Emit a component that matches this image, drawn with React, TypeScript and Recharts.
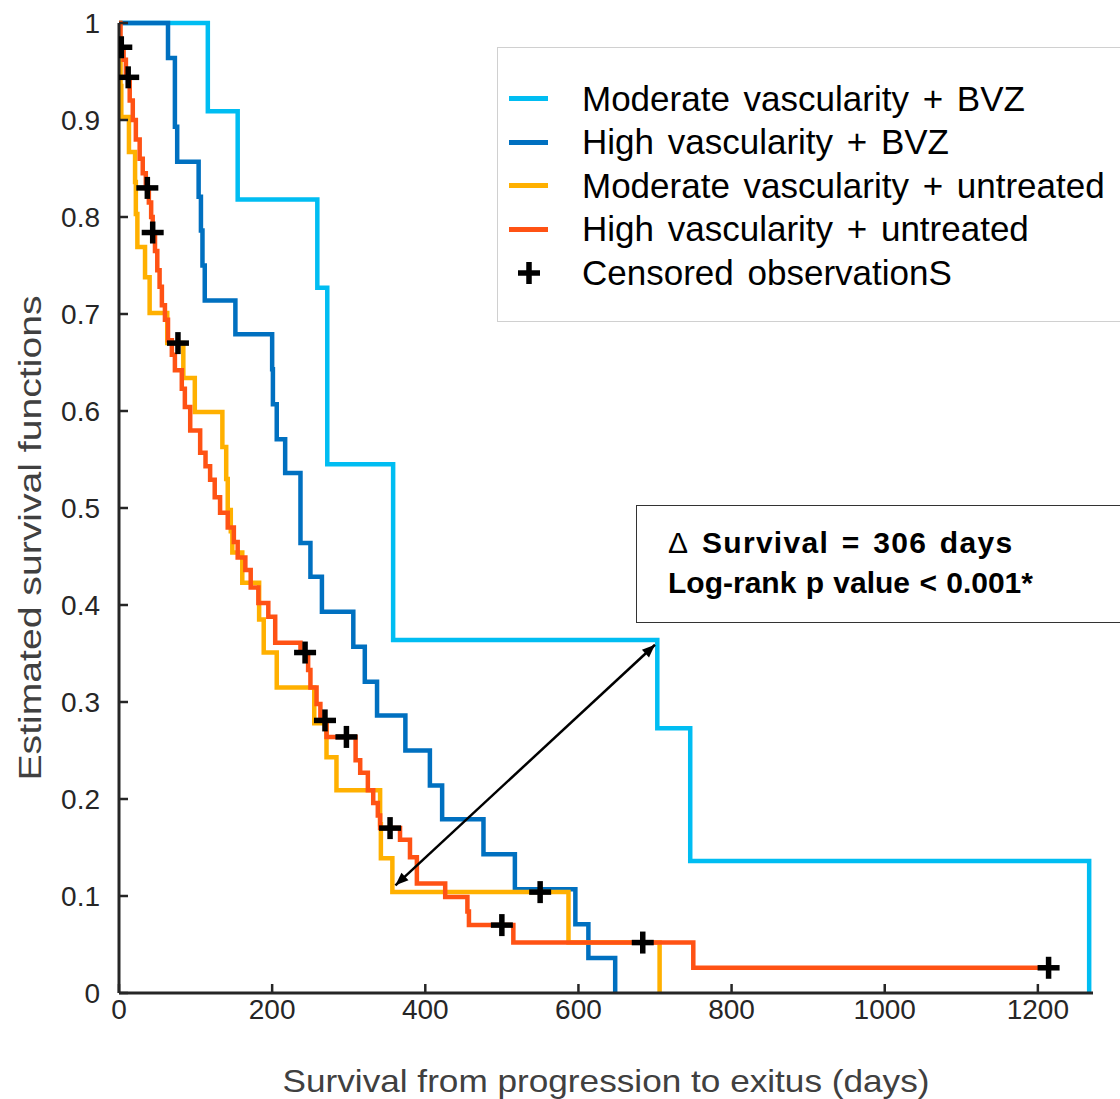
import React from "react";
import {
  ComposedChart,
  Line,
  Scatter,
  XAxis,
  YAxis,
  ReferenceLine,
} from "recharts";

// Kaplan-Meier steps: [day, survival]
const moderateBvz: [number, number][] = [
  [0, 1], [116, 0.909], [155, 0.818], [259, 0.727], [272, 0.545],
  [358, 0.364], [703, 0.273], [746, 0.136], [1267, 0],
];

const highBvz: [number, number][] = [
  [0, 1], [64, 0.964], [73, 0.893], [76, 0.857], [104, 0.821], [107, 0.786],
  [109, 0.75], [112, 0.714], [152, 0.679], [200, 0.643], [201, 0.607],
  [206, 0.571], [217, 0.536], [237, 0.464], [250, 0.429], [265, 0.393],
  [306, 0.357], [321, 0.321], [337, 0.286], [374, 0.25], [406, 0.214],
  [422, 0.179], [476, 0.143], [517, 0.107], [596, 0.071], [613, 0.036],
  [648, 0],
];

const moderateUntreated: [number, number][] = [
  [0, 1], [1, 0.965], [2, 0.935], [3, 0.903], [13, 0.867], [21, 0.836],
  [22, 0.803], [24, 0.769], [34, 0.738], [40, 0.701], [63, 0.67],
  [84, 0.634], [99, 0.599], [135, 0.563], [140, 0.53], [142, 0.498],
  [146, 0.476], [148, 0.454], [161, 0.423], [183, 0.385], [189, 0.351],
  [206, 0.315], [255, 0.278], [271, 0.243], [284, 0.209], [341, 0.174],
  [342, 0.139], [357, 0.104], [587, 0.052], [706, 0],
];

const highUntreated: [number, number][] = [
  [0, 1], [2, 0.975], [6, 0.962], [9, 0.944], [14, 0.92], [18, 0.9],
  [22, 0.88], [27, 0.86], [31, 0.845], [35, 0.83], [39, 0.815], [42, 0.8],
  [44, 0.784], [47, 0.765], [50, 0.745], [53, 0.728], [56, 0.709],
  [60, 0.694], [64, 0.673], [69, 0.658], [73, 0.642], [82, 0.623],
  [86, 0.604], [93, 0.58], [106, 0.557], [113, 0.543], [119, 0.529],
  [125, 0.511], [132, 0.495], [142, 0.48], [150, 0.465], [155, 0.449],
  [165, 0.436], [172, 0.418], [182, 0.402], [195, 0.388], [204, 0.361],
  [237, 0.351], [247, 0.333], [250, 0.315], [258, 0.298], [263, 0.281],
  [271, 0.264], [309, 0.24], [315, 0.227], [325, 0.209], [332, 0.196],
  [338, 0.183], [341, 0.17], [367, 0.158], [380, 0.14], [389, 0.113],
  [426, 0.099], [455, 0.084], [457, 0.07], [515, 0.052], [750, 0.026],
  [1214, 0.026],
];

const censored: [number, number][] = [
  [3, 0.975], [12, 0.944], [37, 0.83], [44, 0.784], [77, 0.67],
  [243, 0.351], [269, 0.281], [297, 0.264], [354, 0.17], [500, 0.07],
  [550, 0.104], [684, 0.052], [1214, 0.026],
];

const xTicks = [0, 200, 400, 600, 800, 1000, 1200];
const yTicks = [0, 0.1, 0.2, 0.3, 0.4, 0.5, 0.6, 0.7, 0.8, 0.9, 1];

const series = [
  { name: "Moderate vascularity + BVZ", color: "#00BDF2", data: moderateBvz },
  { name: "High vascularity + BVZ", color: "#0070C0", data: highBvz },
  { name: "Moderate vascularity + untreated", color: "#FFB000", data: moderateUntreated },
  { name: "High vascularity + untreated", color: "#FF5214", data: highUntreated },
];

const arrowEnds = [
  { x: 361, y: 0.111 },
  { x: 700, y: 0.359 },
];

const FONT = "'Liberation Sans', Arial, sans-serif";
const toRows = (d: [number, number][]) => d.map(([day, s]) => ({ day, s }));

function Cross(props: any) {
  const { cx, cy } = props;
  if (cx == null || cy == null) return null;
  return (
    <g stroke="#000" strokeWidth={5.5}>
      <line x1={cx - 11} y1={cy} x2={cx + 11} y2={cy} />
      <line x1={cx} y1={cy - 11} x2={cx} y2={cy + 11} />
    </g>
  );
}

function Arrow(props: any) {
  const { x1, y1, x2, y2 } = props;
  const a = Math.atan2(y2 - y1, x2 - x1);
  const head = (x: number, y: number, dir: number) => {
    const l = 14;
    const w = 0.38;
    const p1 = [x - l * Math.cos(dir - w), y - l * Math.sin(dir - w)];
    const p2 = [x - l * Math.cos(dir + w), y - l * Math.sin(dir + w)];
    return `${x},${y} ${p1[0]},${p1[1]} ${p2[0]},${p2[1]}`;
  };
  return (
    <g>
      <line x1={x1} y1={y1} x2={x2} y2={y2} stroke="#000" strokeWidth={2.5} />
      <polygon points={head(x2, y2, a)} fill="#000" />
      <polygon points={head(x1, y1, a + Math.PI)} fill="#000" />
    </g>
  );
}

function YLabel(props: any) {
  const vb = props.viewBox || { x: 0, y: 23, height: 970 };
  const x = 30;
  const y = vb.y + vb.height / 2 + 30;
  return (
    <text
      x={x}
      y={y}
      transform={`rotate(-90, ${x}, ${y})`}
      textAnchor="middle"
      dominantBaseline="central"
      fontSize={31}
      textLength={485}
      lengthAdjust="spacingAndGlyphs"
      fontFamily={FONT}
      fill="#404040"
    >
      Estimated survival functions
    </text>
  );
}

function XLabel(props: any) {
  const vb = props.viewBox || { x: 119, y: 993, width: 974, height: 106 };
  const x = vb.x + vb.width / 2;
  return (
    <text
      x={x}
      y={1081}
      textAnchor="middle"
      dominantBaseline="central"
      fontSize={32}
      textLength={647}
      lengthAdjust="spacingAndGlyphs"
      fontFamily={FONT}
      fill="#404040"
    >
      Survival from progression to exitus (days)
    </text>
  );
}

function LegendBox() {
  return (
    <div
      style={{
        position: "absolute",
        left: 497,
        top: 47,
        width: 700,
        height: 275,
        border: "1.5px solid #d0d0d0",
        background: "#fff",
        boxSizing: "border-box",
        paddingTop: 29,
        fontFamily: FONT,
        fontSize: 35,
        wordSpacing: 4,
        color: "#000",
      }}
    >
      {series.map((s) => (
        <div key={s.name} style={{ height: 43.5, display: "flex", alignItems: "center" }}>
          <div style={{ width: 39, height: 5, marginLeft: 11, background: s.color }} />
          <span style={{ marginLeft: 34 }}>{s.name}</span>
        </div>
      ))}
      <div style={{ height: 43.5, display: "flex", alignItems: "center" }}>
        <svg width={50} height={30} style={{ marginLeft: 11 }}>
          <g stroke="#000" strokeWidth={5.5}>
            <line x1={9} y1={15} x2={31} y2={15} />
            <line x1={20} y1={4} x2={20} y2={26} />
          </g>
        </svg>
        <span style={{ marginLeft: 23 }}>Censored observationS</span>
      </div>
    </div>
  );
}

function StatsBox() {
  return (
    <div
      style={{
        position: "absolute",
        left: 636,
        top: 505,
        width: 600,
        height: 118,
        border: "1.5px solid #333",
        background: "#fff",
        boxSizing: "border-box",
        paddingTop: 17,
        paddingLeft: 31,
        fontFamily: FONT,
        fontSize: 30,
        fontWeight: "bold",
        lineHeight: "40px",
        color: "#000",
      }}
    >
      <div style={{ letterSpacing: 1.3, wordSpacing: 3 }}>
        <span style={{ fontWeight: "normal" }}>Δ</span> Survival = 306 days
      </div>
      <div style={{ wordSpacing: 1 }}>Log-rank p value &lt; 0.001*</div>
    </div>
  );
}

export default function App() {
  return (
    <div style={{ position: "absolute", left: 0, top: 0, width: 1120, height: 1099, background: "#fff" }}>
      <ComposedChart
        width={1120}
        height={1099}
        margin={{ top: 23, right: 27, bottom: 0, left: 0 }}
      >
        <XAxis
          type="number"
          dataKey="day"
          domain={[0, 1272]}
          ticks={xTicks}
          allowDataOverflow
          height={106}
          tickSize={-9}
          tickMargin={15}
          axisLine={{ stroke: "#262626", strokeWidth: 3 }}
          tickLine={{ stroke: "#262626", strokeWidth: 2.5 }}
          tick={{ fontSize: 28, fill: "#262626", fontFamily: FONT }}
          label={{ content: XLabel }}
        />
        <YAxis
          type="number"
          domain={[0, 1]}
          ticks={yTicks}
          width={119}
          tickSize={-9}
          tickMargin={28}
          axisLine={{ stroke: "#262626", strokeWidth: 3 }}
          tickLine={{ stroke: "#262626", strokeWidth: 2.5 }}
          tick={{ fontSize: 28, fill: "#262626", fontFamily: FONT }}
          tickFormatter={(v: number) => (v === 0 || v === 1 ? String(v) : v.toFixed(1))}
          label={{ content: YLabel }}
        />
        {series.map((s) => (
          <Line
            key={s.name}
            data={toRows(s.data)}
            dataKey="s"
            type="stepAfter"
            stroke={s.color}
            strokeWidth={4.5}
            dot={false}
            activeDot={false}
            isAnimationActive={false}
          />
        ))}
        <Scatter
          data={toRows(censored)}
          dataKey="s"
          shape={Cross}
          isAnimationActive={false}
        />
        <ReferenceLine segment={arrowEnds} shape={Arrow} />
      </ComposedChart>
      <LegendBox />
      <StatsBox />
    </div>
  );
}
